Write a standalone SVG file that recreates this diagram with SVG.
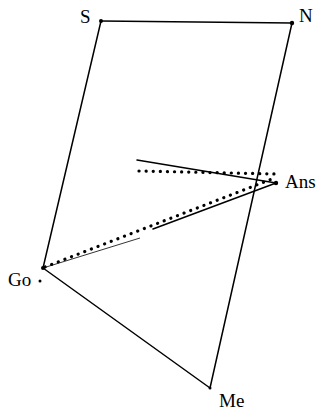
<svg xmlns="http://www.w3.org/2000/svg" width="320" height="413" viewBox="0 0 320 413">
<style>
.ln{stroke:#000;stroke-width:1.5;fill:none;stroke-linecap:round}
.thin{stroke:#000;stroke-width:0.8;fill:none}
.dot{stroke:#000;stroke-width:3.2;fill:none;stroke-dasharray:0.1 7;stroke-linecap:round}
.lbl{font-family:"Liberation Serif",serif;font-size:19px;fill:#000}
.pt{fill:#000}
</style>
<rect width="320" height="413" fill="#fff"/>
<g id="connectors">
<line class="ln" x1="101" y1="21" x2="292" y2="23"/>
<line class="ln" x1="101" y1="21" x2="43" y2="268"/>
<line class="ln" x1="292" y1="23" x2="210" y2="388"/>
<line class="ln" x1="43" y1="268" x2="210" y2="388"/>
<line class="ln" x1="137" y1="160" x2="276" y2="183"/>
<line class="ln" x1="153" y1="229" x2="276" y2="183"/>
<line class="dot" x1="139" y1="171" x2="277" y2="174"/>
<line class="dot" x1="45" y1="267" x2="272" y2="179"/>
<line class="thin" x1="43" y1="268" x2="140" y2="238"/>
</g>
<g id="S"><circle class="pt" cx="101" cy="21" r="2"/><text class="lbl" x="80" y="23">S</text></g>
<g id="N"><circle class="pt" cx="292" cy="23" r="2.2"/><text class="lbl" x="299" y="22">N</text></g>
<g id="Ans"><circle class="pt" cx="276" cy="183" r="2.2"/><text class="lbl" x="285" y="188">Ans</text></g>
<g id="Go"><circle class="pt" cx="43" cy="268" r="2"/><circle class="pt" cx="40" cy="281" r="1.5"/><text class="lbl" x="8" y="286">Go</text></g>
<g id="Me"><circle class="pt" cx="210" cy="388" r="1.5"/><text class="lbl" x="219" y="407">Me</text></g>
</svg>
